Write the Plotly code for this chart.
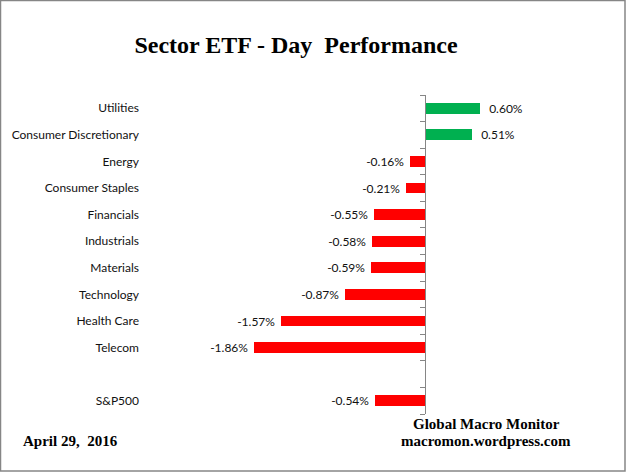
import plotly.graph_objects as go

categories = ["Utilities", "Consumer Discretionary", "Energy", "Consumer Staples",
              "Financials", "Industrials", "Materials", "Technology", "Health Care",
              "Telecom", " ", "S&P500"]
values = [0.60, 0.51, -0.16, -0.21, -0.55, -0.58, -0.59, -0.87, -1.57, -1.86, None, -0.54]

title_text = "Sector ETF - Day\u00a0\u00a0Performance"
date_text = "April 29,\u00a0\u00a02016"
source_lines = ["Global Macro Monitor", "macromon.wordpress.com"]

W, H = 626, 473
ML, MR, MT, MB = 149, 109, 95, 59
XR = [-3.0, 1.0]

GREEN = "#00B050"
RED = "#FF0000"
LABEL_FONT = "Lato, 'Open Sans', sans-serif"
SERIF = "'Liberation Serif', 'Times New Roman', serif"

colors = [GREEN if (v is not None and v >= 0) else RED for v in values]
texts = []
for v in values:
    if v is None:
        texts.append("")
    elif v >= 0:
        texts.append("\u00a0\u00a0" + f"{v:.2f}%")
    else:
        texts.append(f"{v:.2f}%" + "\u00a0")

fig = go.Figure()
fig.add_trace(go.Bar(
    y=categories, x=values, orientation="h",
    marker=dict(color=colors, line=dict(width=0)),
    width=0.41,
    text=texts, textposition="outside", cliponaxis=False, constraintext="none",
    textfont=dict(family=LABEL_FONT, size=12, color="#111111"),
    hoverinfo="skip",
))

n = len(categories)
bounds = [i - 0.5 for i in range(n + 1)]
fig.add_trace(go.Scatter(x=[None], y=[None], yaxis="y2", showlegend=False, hoverinfo="skip"))

pos = (0 - XR[0]) / (XR[1] - XR[0])
fig.update_layout(
    width=W, height=H,
    margin=dict(l=ML, r=MR, t=MT, b=MB, pad=0),
    paper_bgcolor="white", plot_bgcolor="white",
    showlegend=False,
    bargap=0,
    xaxis=dict(range=XR, visible=False, fixedrange=True),
    yaxis=dict(
        type="category", categoryorder="array", categoryarray=categories,
        range=[n - 0.5, -0.5], showgrid=False, zeroline=False, showline=False,
        ticks="", ticklabelstandoff=9,
        tickfont=dict(family=LABEL_FONT, size=12, color="#111111"),
    ),
    yaxis2=dict(
        overlaying="y", anchor="free", position=pos, side="left",
        range=[n - 0.5, -0.5], showgrid=False, zeroline=False,
        showline=True, linecolor="#868686", linewidth=1,
        ticks="outside", ticklen=5, tickcolor="#868686", tickwidth=1,
        tickvals=bounds, showticklabels=False,
    ),
    title=dict(
        text=title_text, x=296 / W, xref="container", xanchor="center",
        y=1 - 45 / H, yanchor="middle", yref="container",
        font=dict(family=SERIF, size=24, color="black", weight="bold"),
    ),
)

pw = W - ML - MR
ph = H - MT - MB
def px(x):
    return (x - ML) / pw
def py(y):
    return 1 - (y - MT) / ph

fig.add_annotation(text="<b>" + source_lines[0] + "</b>", xref="paper", yref="paper",
                   x=px(486), y=py(424), xanchor="center", yanchor="middle", showarrow=False,
                   font=dict(family=SERIF, size=15, color="black"))
fig.add_annotation(text="<b>" + source_lines[1] + "</b>", xref="paper", yref="paper",
                   x=px(486), y=py(441), xanchor="center", yanchor="middle", showarrow=False,
                   font=dict(family=SERIF, size=15, color="black"))
fig.add_annotation(text="<b>" + date_text + "</b>", xref="paper", yref="paper",
                   x=px(21), y=py(441), xanchor="left", yanchor="middle", showarrow=False,
                   font=dict(family=SERIF, size=15, color="black"))

fig.add_shape(type="rect", xref="paper", yref="paper",
              x0=px(0.5), x1=px(625), y0=py(471), y1=py(0.5),
              line=dict(color="#868686", width=1.5), fillcolor="rgba(0,0,0,0)", layer="above")

fig.write_html("out.html", config={"displayModeBar": False},
               post_script="document.body.style.margin='0';")
